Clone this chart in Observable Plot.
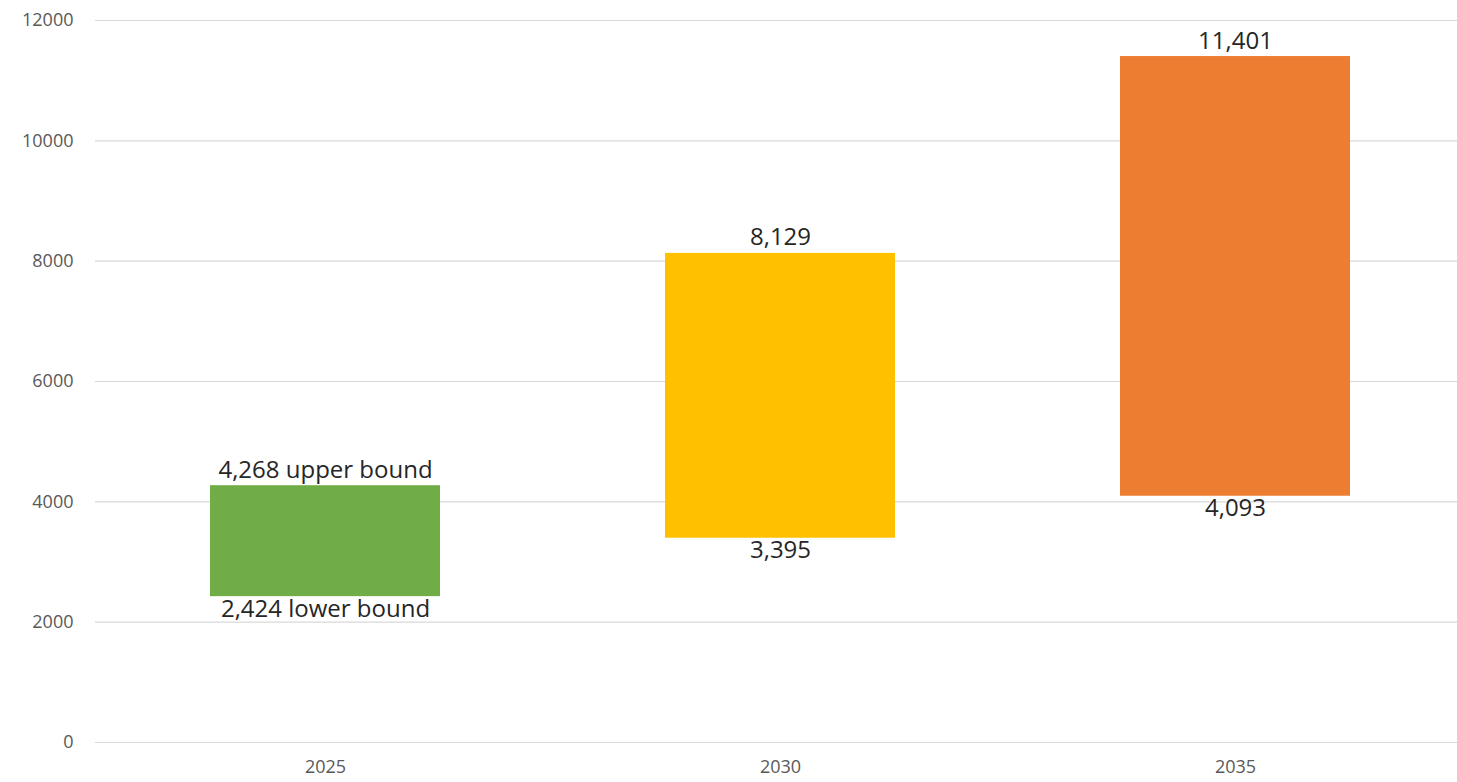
<!DOCTYPE html>
<html>
<head>
<meta charset="utf-8">
<script src="https://cdn.jsdelivr.net/npm/d3@7"></script>
<script src="https://cdn.jsdelivr.net/npm/@observablehq/plot@0.6"></script>
<style>
html, body { margin: 0; padding: 0; background: #fff; }
#chart svg { display: block; }
</style>
</head>
<body>
<div id="chart"></div>
<script>
const years = ["2025", "2030", "2035"];
const lowerValues = [2424, 3395, 4093];
const upperValues = [4268, 8129, 11401];
const upperLabels = ["4,268 upper bound", "8,129", "11,401"];
const lowerLabels = ["2,424 lower bound", "3,395", "4,093"];
const colors = ["#70AD47", "#FFC000", "#ED7D31"];
const yTicks = [0, 2000, 4000, 6000, 8000, 10000, 12000];

const data = years.map((y, i) => ({
  year: y, lo: lowerValues[i], hi: upperValues[i],
  upLabel: upperLabels[i], loLabel: lowerLabels[i], color: colors[i]
}));

const chart = Plot.plot({
  width: 1457,
  height: 782,
  marginLeft: 95,
  marginRight: 0,
  marginTop: 20,
  marginBottom: 40,
  style: { fontFamily: "'Open Sans', sans-serif", background: "#fff" },
  x: { domain: years, range: [96, 1463], paddingInner: 0.495, paddingOuter: 0.2475, label: null },
  y: { domain: [0, 12000], label: null },
  marks: [
    Plot.ruleY(yTicks, { stroke: "#d9d9d9", strokeWidth: 1.2 }),
    Plot.axisY({ ticks: yTicks, tickSize: 0, tickPadding: 22, tickFormat: d => String(d), fontSize: 18, color: "#595959", label: null }),
    Plot.axisX({ tickSize: 0, tickPadding: 18, fontSize: 18, color: "#595959", label: null }),
    Plot.barY(data, { x: "year", y1: "lo", y2: "hi", fill: "color" }),
    Plot.text(data, { x: "year", y: "hi", text: "upLabel", lineAnchor: "bottom", dy: -8, fontSize: 24, fill: "#262626" }),
    Plot.text(data, { x: "year", y: "lo", text: "loLabel", lineAnchor: "top", dy: 3, fontSize: 24, fill: "#262626" })
  ]
});
document.getElementById("chart").appendChild(chart);
</script>
</body>
</html>
